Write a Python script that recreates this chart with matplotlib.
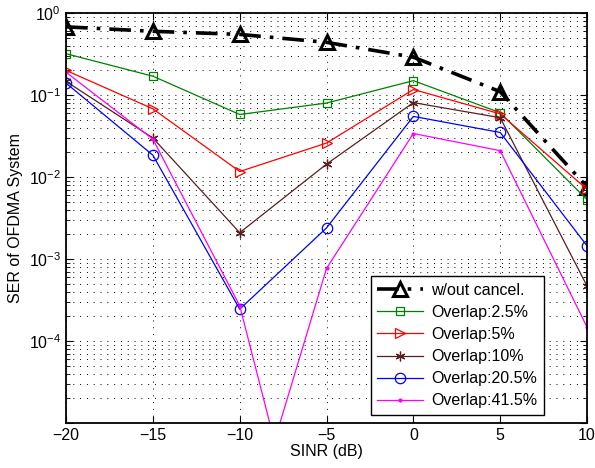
import matplotlib
matplotlib.use("Agg")
import matplotlib.pyplot as plt
from matplotlib.ticker import LogLocator, NullFormatter, FixedLocator

plt.rcParams['font.family'] = ['Liberation Sans', 'DejaVu Sans']
plt.rcParams['font.size'] = 10.5
plt.rcParams['mathtext.fontset'] = 'custom'
plt.rcParams['mathtext.rm'] = 'Liberation Sans'

# SINR axis (dB)
sinr = [-20, -15, -10, -5, 0, 5, 10]
sinr_415 = [-20, -15, -10, -8, -5, 0, 5, 10]

# symbol error rates
ser_nocancel = [0.68, 0.60, 0.55, 0.44, 0.29, 0.11, 0.0076]
ser_25 = [0.32, 0.17, 0.058, 0.080, 0.15, 0.061, 0.0053]
ser_5 = [0.20, 0.068, 0.0117, 0.026, 0.117, 0.059, 0.0071]
ser_10 = [0.147, 0.030, 0.0021, 0.0144, 0.081, 0.053, 4.7e-4]
ser_205 = [0.14, 0.0185, 2.45e-4, 0.0024, 0.055, 0.035, 1.45e-3]
ser_415 = [0.19, 0.029, 2.7e-4, 6e-6, 7.7e-4, 0.034, 0.021, 1.48e-4]

fig = plt.figure(figsize=(5.95, 4.68), dpi=100)
ax = fig.add_axes([0.111, 0.096, 0.8756, 0.876])

ax.semilogy(sinr, ser_nocancel, color='k', lw=2.6, ls=(0, (6, 2.5, 1, 2.5)),
            marker='^', ms=10, mfc='none', mec='k', mew=2.2, label='w/out cancel.')
ax.semilogy(sinr, ser_25, color=(0, 0.5, 0), lw=0.9, marker='s', ms=6,
            mfc='none', mew=0.9, label='Overlap:2.5%')
ax.semilogy(sinr, ser_5, color='r', lw=0.9, marker='>', ms=7.5,
            mfc='none', mew=0.9, label='Overlap:5%')
ax.semilogy(sinr, ser_10, color=(0.35, 0.12, 0.12), lw=0.9, marker=(6, 2, 0), ms=7,
            mew=0.9, label='Overlap:10%')
ax.semilogy(sinr, ser_205, color='b', lw=0.9, marker='o', ms=7.5,
            mfc='none', mew=0.9, label='Overlap:20.5%')
ax.semilogy(sinr_415, ser_415, color='#ff00ff', lw=0.9, marker='.', ms=4,
            markevery=[0, 1, 2, 4, 5, 6, 7], label='Overlap:41.5%')

ax.set_xlim(-20, 10)
ax.set_ylim(1e-5, 1)
ax.xaxis.set_major_locator(FixedLocator([-20, -15, -10, -5, 0, 5, 10]))
ax.set_xticklabels(['\u221220', '\u221215', '\u221210', '\u22125', '0', '5', '10'])
ax.yaxis.set_major_locator(FixedLocator([1e-5, 1e-4, 1e-3, 1e-2, 1e-1, 1]))
ax.set_yticklabels(['', r'$10^{-4}$', r'$10^{-3}$', r'$10^{-2}$', r'$10^{-1}$', r'$10^{0}$'])
ax.yaxis.set_minor_locator(LogLocator(base=10, subs=range(2, 10), numticks=10))
ax.yaxis.set_minor_formatter(NullFormatter())

ax.grid(True, which='major', ls=(0, (1, 6)), color='k', lw=0.7)
ax.grid(True, which='minor', axis='y', ls=(0, (1, 6)), color='k', lw=0.7)
ax.tick_params(which='both', direction='in', top=True, right=True)
ax.tick_params(which='major', length=5, width=0.8, labelsize=11.5)
ax.tick_params(which='minor', length=3, width=0.6)
for s in ax.spines.values():
    s.set_linewidth(1.3)

ax.set_xlabel('SINR (dB)', fontsize=11.5, labelpad=1)
ax.set_ylabel('SER of OFDMA System', fontsize=11.5, labelpad=4)

leg = ax.legend(loc='lower right', bbox_to_anchor=(0.917, 0.02), fontsize=11.5,
                frameon=True, fancybox=False, edgecolor='k', framealpha=1,
                handlelength=2.9, labelspacing=0.45, borderpad=0.4,
                handletextpad=0.5, borderaxespad=0)
leg.get_frame().set_linewidth(1.0)

fig.savefig('out.png', dpi=100)
